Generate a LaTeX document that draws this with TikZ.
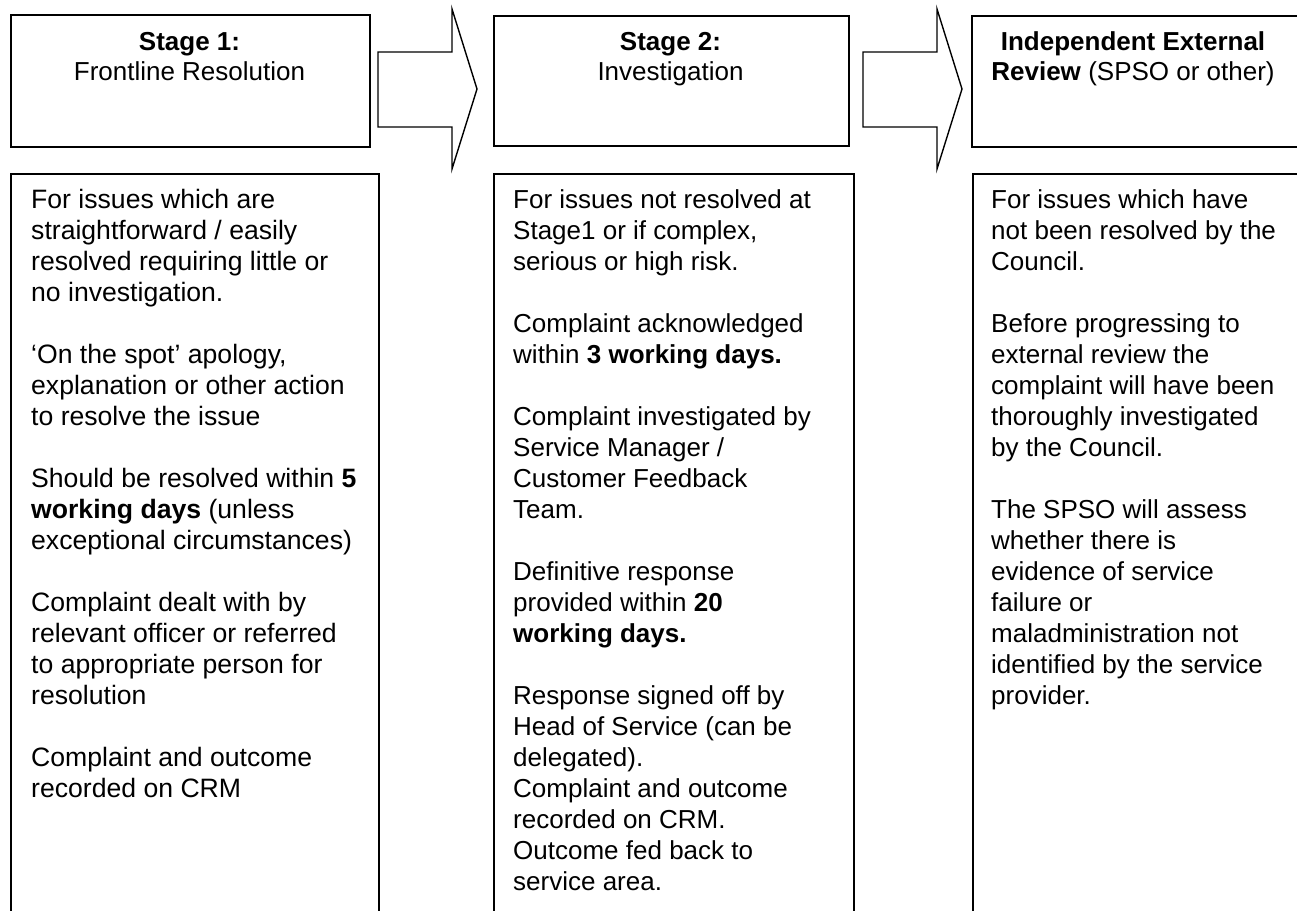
\documentclass[tikz,border=0pt]{standalone}
\usepackage{fontspec}
\setmainfont{Liberation Sans}
\begin{document}
\begin{tikzpicture}[x=1pt,y=-1pt,
  box/.style={draw=black, line width=1.6pt, inner sep=0pt, anchor=north west},
  blockarrow/.style={draw=black, line width=1.4pt, line join=miter},
  headtext/.style={align=center, font=\fontsize{26}{30}\selectfont, anchor=base, inner sep=0pt},
  bodytext/.style={align=left, font=\fontsize{26}{31}\selectfont, anchor=base west, inner sep=0pt}]
\useasboundingbox (0,0) rectangle (1297,910);
% top boxes
\node[box, minimum width=359pt, minimum height=132pt] (t1) at (10,14) {};
\node[box, minimum width=355pt, minimum height=130pt] (t2) at (493,15) {};
\node[box, minimum width=330pt, minimum height=131pt] (t3) at (971,15) {};
% body boxes
\node[box, minimum width=368pt, minimum height=750pt] (b1) at (10,173) {};
\node[box, minimum width=360pt, minimum height=750pt] (b2) at (493,173) {};
\node[box, minimum width=330pt, minimum height=750pt] (b3) at (972,173) {};
% block arrows
\draw[blockarrow] (378,52) -- (452,52) -- (452,9) -- (477,89) -- (452,169) -- (452,127) -- (378,127) -- cycle;
\draw[blockarrow] (863,52) -- (937,52) -- (937,9) -- (962,89) -- (937,169) -- (937,127) -- (863,127) -- cycle;
% headings (base anchor = baseline of the last line)
\node[headtext] (h1) at (189.5,80) {\textbf{Stage 1:}\\Frontline Resolution};
\node[headtext] (h2) at (670.5,80) {\textbf{Stage 2:}\\Investigation};
\node[headtext] (h3) at (1133,80) {\textbf{Independent External}\\\textbf{Review} (SPSO or other)};
% body texts (base anchor = baseline of the last line; first baseline at y=208)
\node[bodytext, font=\fontsize{26.6}{31}\selectfont] (x1) at (31,797) {For issues which are\\straightforward / easily\\resolved requiring little or\\no investigation.\\[31pt]
‘On the spot’ apology,\\explanation or other action\\to resolve the issue\\[31pt]
Should be resolved within \textbf{5}\\\textbf{working days} (unless\\exceptional circumstances)\\[31pt]
Complaint dealt with by\\relevant officer or referred\\to appropriate person for\\resolution\\[31pt]
Complaint and outcome\\recorded on CRM};
\node[bodytext] (x2) at (513,890) {For issues not resolved at\\Stage1 or if complex,\\serious or high risk.\\[31pt]
Complaint acknowledged\\within \textbf{3 working days.}\\[31pt]
Complaint investigated by\\Service Manager /\\Customer Feedback\\Team.\\[31pt]
Definitive response\\provided within \textbf{20}\\\textbf{working days.}\\[31pt]
Response signed off by\\Head of Service (can be\\delegated).\\Complaint and outcome\\recorded on CRM.\\Outcome fed back to\\service area.};
\node[bodytext] (x3) at (991,704) {For issues which have\\not been resolved by the\\Council.\\[31pt]
Before progressing to\\external review the\\complaint will have been\\thoroughly investigated\\by the Council.\\[31pt]
The SPSO will assess\\whether there is\\evidence of service\\failure or\\maladministration not\\identified by the service\\provider.};
\end{tikzpicture}
\end{document}
